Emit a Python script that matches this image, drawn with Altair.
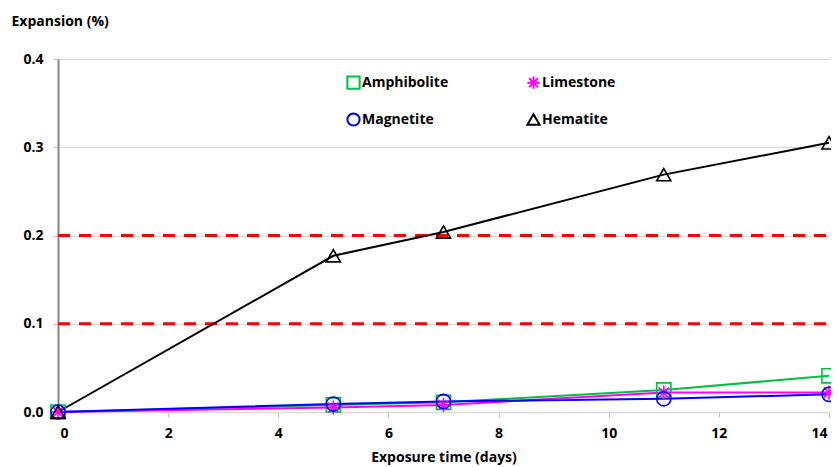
import altair as alt
import pandas as pd

days = [0, 5, 7, 11, 14]
series_names = ["Amphibolite", "Limestone", "Magnetite", "Hematite"]
amphibolite = [0.0, 0.008, 0.011, 0.025, 0.041]
limestone = [0.0, 0.005, 0.008, 0.022, 0.022]
magnetite = [0.0, 0.009, 0.012, 0.015, 0.020]
hematite = [0.0, 0.177, 0.204, 0.269, 0.305]
limits = [0.1, 0.2]

color_map = {"Amphibolite": "#00c040", "Limestone": "#ff00ff", "Magnetite": "#0000ff", "Hematite": "#000000"}
asterisk = "M-1,0L1,0M0,-1L0,1M-0.72,-0.72L0.72,0.72M-0.72,0.72L0.72,-0.72"
shape_map = {"Amphibolite": "square", "Limestone": asterisk, "Magnetite": "circle", "Hematite": "triangle-up"}

# legend is filled column by column: order so rows read Amphibolite|Limestone, Magnetite|Hematite
legend_order = ["Amphibolite", "Magnetite", "Limestone", "Hematite"]

rows = []
for name, vals in zip(series_names, [amphibolite, limestone, magnetite, hematite]):
    for d, v in zip(days, vals):
        rows.append({"Series": name, "day": d, "exp": v})
df = pd.DataFrame(rows)
lim_df = pd.DataFrame({"exp": limits, "day": [0] * len(limits), "day_end": [14] * len(limits)})

FONT = "Open Sans"

x_axis = alt.Axis(values=list(range(0, 15, 2)), format="d", title="Exposure time (days)", grid=False,
                  labelFlush=True, labelFlushOffset=-2)
y_axis = alt.Axis(values=[0, 0.1, 0.2, 0.3, 0.4], format=".1f", title="Expansion (%)",
                  titleAngle=0, titleAlign="left", titleBaseline="middle",
                  titleX=-47, titleY=-38, grid=True)
x_scale = alt.Scale(domain=[0, 14], nice=False)
y_scale = alt.Scale(domain=[0, 0.4], nice=False)

color_scale = alt.Scale(domain=legend_order, range=[color_map[s] for s in legend_order])
shape_scale = alt.Scale(domain=legend_order, range=[shape_map[s] for s in legend_order])

legend = alt.Legend(title=None, orient="none", legendX=288, legendY=16, columns=2,
                    columnPadding=74, rowPadding=16, symbolSize=150, symbolStrokeWidth=2,
                    labelFontSize=14, labelFontWeight="bold", labelFont=FONT, padding=0,
                    symbolOffset=0, labelOffset=1)

rules = alt.Chart(lim_df).mark_rule(color="#ff0000", strokeWidth=3, strokeDash=[12, 9]).encode(
    x=alt.X("day:Q", scale=x_scale, axis=x_axis),
    x2="day_end:Q",
    y=alt.Y("exp:Q", scale=y_scale, axis=y_axis),
)

lines = alt.Chart(df).mark_line(strokeWidth=2).encode(
    x=alt.X("day:Q", scale=x_scale, axis=x_axis),
    y=alt.Y("exp:Q", scale=y_scale, axis=y_axis),
    color=alt.Color("Series:N", scale=color_scale, legend=legend),
    detail="Series:N",
)

points = alt.Chart(df).mark_point(filled=False, size=200, strokeWidth=1.6, opacity=1).encode(
    x=alt.X("day:Q", scale=x_scale, axis=x_axis),
    y=alt.Y("exp:Q", scale=y_scale, axis=y_axis),
    color=alt.Color("Series:N", scale=color_scale, legend=legend),
    shape=alt.Shape("Series:N", scale=shape_scale, legend=legend),
)

chart = alt.layer(rules, lines, points).properties(
    width=771, height=353,
    autosize=alt.AutoSizeParams(type="none"),
    padding={"left": 50, "top": 51, "right": 2, "bottom": 56},
).configure_axis(
    labelFont=FONT, labelFontSize=14, labelFontWeight="bold", labelColor="#000000",
    titleFont=FONT, titleFontSize=14, titleFontWeight="bold", titleColor="#000000",
    gridColor="#d9d9d9", gridWidth=1, domainColor="#d9d9d9", domainWidth=1.5,
    tickColor="#bfbfbf", tickSize=5,
).configure_axisY(labelPadding=10, domainColor="#868686", domainWidth=2).configure_axisX(
    titlePadding=10, labelPadding=9
).configure_view(stroke=None)

chart.save("out.html", embed_options={"renderer": "svg", "actions": False})
